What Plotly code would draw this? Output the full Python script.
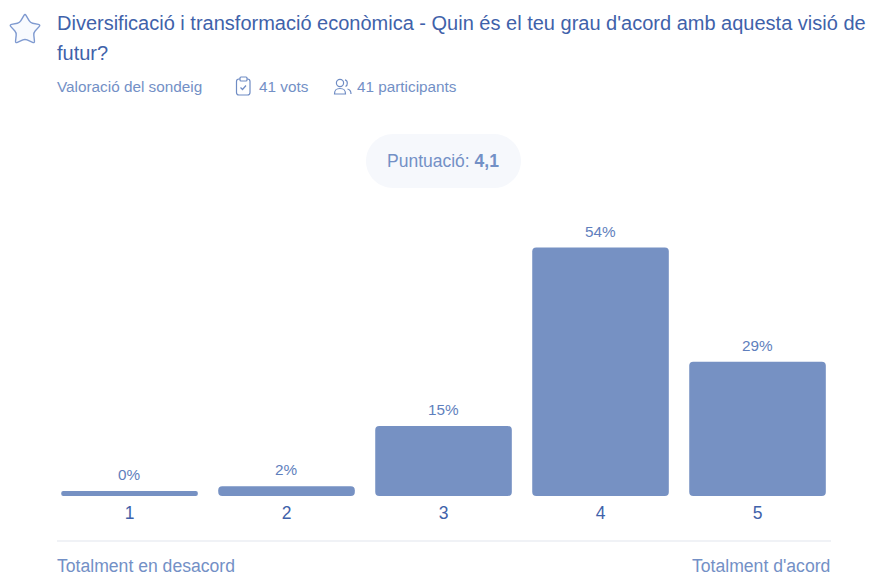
import math
import plotly.graph_objects as go

categories = ["1", "2", "3", "4", "5"]
percent_labels = ["0%", "2%", "15%", "54%", "29%"]
# the 0% bar keeps a minimal visible height in the reference
bar_values = [1.1, 2.1, 15.2, 54, 29.2]

title_lines = ["Diversificació i transformació econòmica - Quin és el teu grau d'acord amb aquesta visió de", "futur?"]

W, H = 869, 576
TOP, BOTTOM = 200, 80
BASE = H - BOTTOM
FONT = "Liberation Sans"
BAR = "#7691c3"
DARK = "#3f62aa"
MID = "#5f7fbd"
SOFT = "#7390c6"

def px(x):
    return x / W

def py(y):
    return (BASE - y) / (H - TOP - BOTTOM)

def pt(x, y):
    return f"{px(x):.5f},{py(y):.5f}"

def rrect(x0, y0, x1, y1, r):
    k = r * 0.45
    return (f"M{pt(x0 + r, y0)} L{pt(x1 - r, y0)} C{pt(x1 - k, y0)} {pt(x1, y0 + k)} {pt(x1, y0 + r)} "
            f"L{pt(x1, y1 - r)} C{pt(x1, y1 - k)} {pt(x1 - k, y1)} {pt(x1 - r, y1)} "
            f"L{pt(x0 + r, y1)} C{pt(x0 + k, y1)} {pt(x0, y1 - k)} {pt(x0, y1 - r)} "
            f"L{pt(x0, y0 + r)} C{pt(x0, y0 + k)} {pt(x0 + k, y0)} {pt(x0 + r, y0)} Z")

def star(cx, cy, R, r, t=0.22):
    """Five-pointed star whose corners are softened with quadratic curves."""
    v = []
    for i in range(10):
        a = -math.pi / 2 + i * math.pi / 5
        rad = R if i % 2 == 0 else r
        v.append((cx + rad * math.cos(a), cy + rad * math.sin(a)))
    d = ""
    for i in range(10):
        p0, p1, p2 = v[i - 1], v[i], v[(i + 1) % 10]
        a = (p1[0] + (p0[0] - p1[0]) * t, p1[1] + (p0[1] - p1[1]) * t)
        b = (p1[0] + (p2[0] - p1[0]) * t, p1[1] + (p2[1] - p1[1]) * t)
        d += ("M" if i == 0 else "L") + pt(*a) + " Q" + pt(*p1) + " " + pt(*b) + " "
    return d + "Z"

def ellipse(cx, cy, rx, ry):
    k = 0.55
    return (f"M{pt(cx - rx, cy)} C{pt(cx - rx, cy - k * ry)} {pt(cx - k * rx, cy - ry)} {pt(cx, cy - ry)} "
            f"C{pt(cx + k * rx, cy - ry)} {pt(cx + rx, cy - k * ry)} {pt(cx + rx, cy)} "
            f"C{pt(cx + rx, cy + k * ry)} {pt(cx + k * rx, cy + ry)} {pt(cx, cy + ry)} "
            f"C{pt(cx - k * rx, cy + ry)} {pt(cx - rx, cy + k * ry)} {pt(cx - rx, cy)} Z")

def shape(path, line=None, fill="rgba(0,0,0,0)", width=1.2):
    return dict(type="path", xref="paper", yref="paper", path=path, fillcolor=fill,
                line=dict(color=line or "rgba(0,0,0,0)", width=width), layer="above")

def label(x, y, text, size, color, anchor="left"):
    return dict(xref="paper", yref="paper", x=px(x), y=py(y), text=text, showarrow=False,
                xanchor=anchor, yanchor="middle", align=anchor, borderpad=0,
                font=dict(family=FONT, size=size, color=color))

cats = [1, 2, 3, 4, 5]
# An explicit base makes plotly round all four corners of each bar.
fig = go.Figure(go.Bar(x=cats, y=bar_values, base=[0, 0, 0, 0, 0],
                       marker=dict(color=BAR, cornerradius=4.5, line=dict(width=0)),
                       width=0.87, hoverinfo="skip"))

shapes = [
    shape(rrect(366, 134, 521, 188, 27), fill="#f6f8fc"),
    dict(type="line", xref="paper", yref="paper", x0=px(57), x1=px(831), y0=py(541), y1=py(541),
         line=dict(color="#f0f2f6", width=2)),
    shape(star(25, 30, 16.5, 9), line="#7f9ad0", fill="#f8fafe", width=1.4),
    # clipboard icon
    shape(rrect(236.5, 79, 250, 95, 2.5), line="#6f8cc4"),
    shape(rrect(240, 77, 247, 81, 1), line="#6f8cc4", fill="#ffffff"),
    shape(f"M{pt(240.5, 87.5)} L{pt(242.5, 89.5)} L{pt(246, 85.5)}", line="#6f8cc4"),
    # participants icon
    shape(ellipse(340, 83, 3.6, 3.6), line="#6f8cc4"),
    shape(f"M{pt(334.5, 94)} C{pt(334.5, 89)} {pt(337, 88.5)} {pt(340, 88.5)} "
          f"C{pt(343, 88.5)} {pt(345.5, 89)} {pt(345.5, 94)} Z", line="#6f8cc4"),
    shape(f"M{pt(345, 79.8)} C{pt(348, 80.5)} {pt(348, 85.5)} {pt(345.5, 86.5)}", line="#6f8cc4"),
    shape(f"M{pt(347.5, 89)} C{pt(350, 89.5)} {pt(351, 91)} {pt(351, 94)}", line="#6f8cc4"),
]

annotations = [
    label(56, 23, title_lines[0], 20, DARK),
    label(56, 53, title_lines[1], 20, DARK),
    label(55.5, 86.5, "Valoració del sondeig", 15.3, SOFT),
    label(257.5, 86.5, "41 vots", 15.3, SOFT),
    label(356, 86.5, "41 participants", 15.3, SOFT),
    label(443.5, 161, "Puntuació: <b>4,1</b>", 17.5, SOFT, "center"),
    label(55.5, 566, "Totalment en desacord", 17.6, SOFT),
    label(831, 566, "Totalment d'acord", 17.6, SOFT, "right"),
]
for i, txt in enumerate(percent_labels):
    annotations.append(dict(xref="x", yref="y", x=i + 1, y=bar_values[i], text=txt, showarrow=False,
                            xanchor="center", yanchor="middle", yshift=16.5, borderpad=0,
                            font=dict(family=FONT, size=15.3, color=MID)))

fig.update_layout(
    width=W, height=H, autosize=False, showlegend=False,
    margin=dict(l=0, r=0, t=TOP, b=BOTTOM, pad=0),
    paper_bgcolor="#ffffff", plot_bgcolor="#ffffff",
    xaxis=dict(range=[0.175, 0.175 + W / 157], tickmode="array", tickvals=cats,
               ticktext=categories, showgrid=False, zeroline=False, showline=False,
               ticks="outside", ticklen=1, tickcolor="rgba(0,0,0,0)", fixedrange=True,
               tickfont=dict(family=FONT, size=17.5, color=DARK)),
    yaxis=dict(range=[0, (H - TOP - BOTTOM) / 4.6], visible=False, fixedrange=True),
    shapes=shapes, annotations=annotations,
)

fig.write_html("out.html", config=dict(displayModeBar=False),
               post_script="document.body.style.margin='0';document.documentElement.style.overflow='hidden';")
